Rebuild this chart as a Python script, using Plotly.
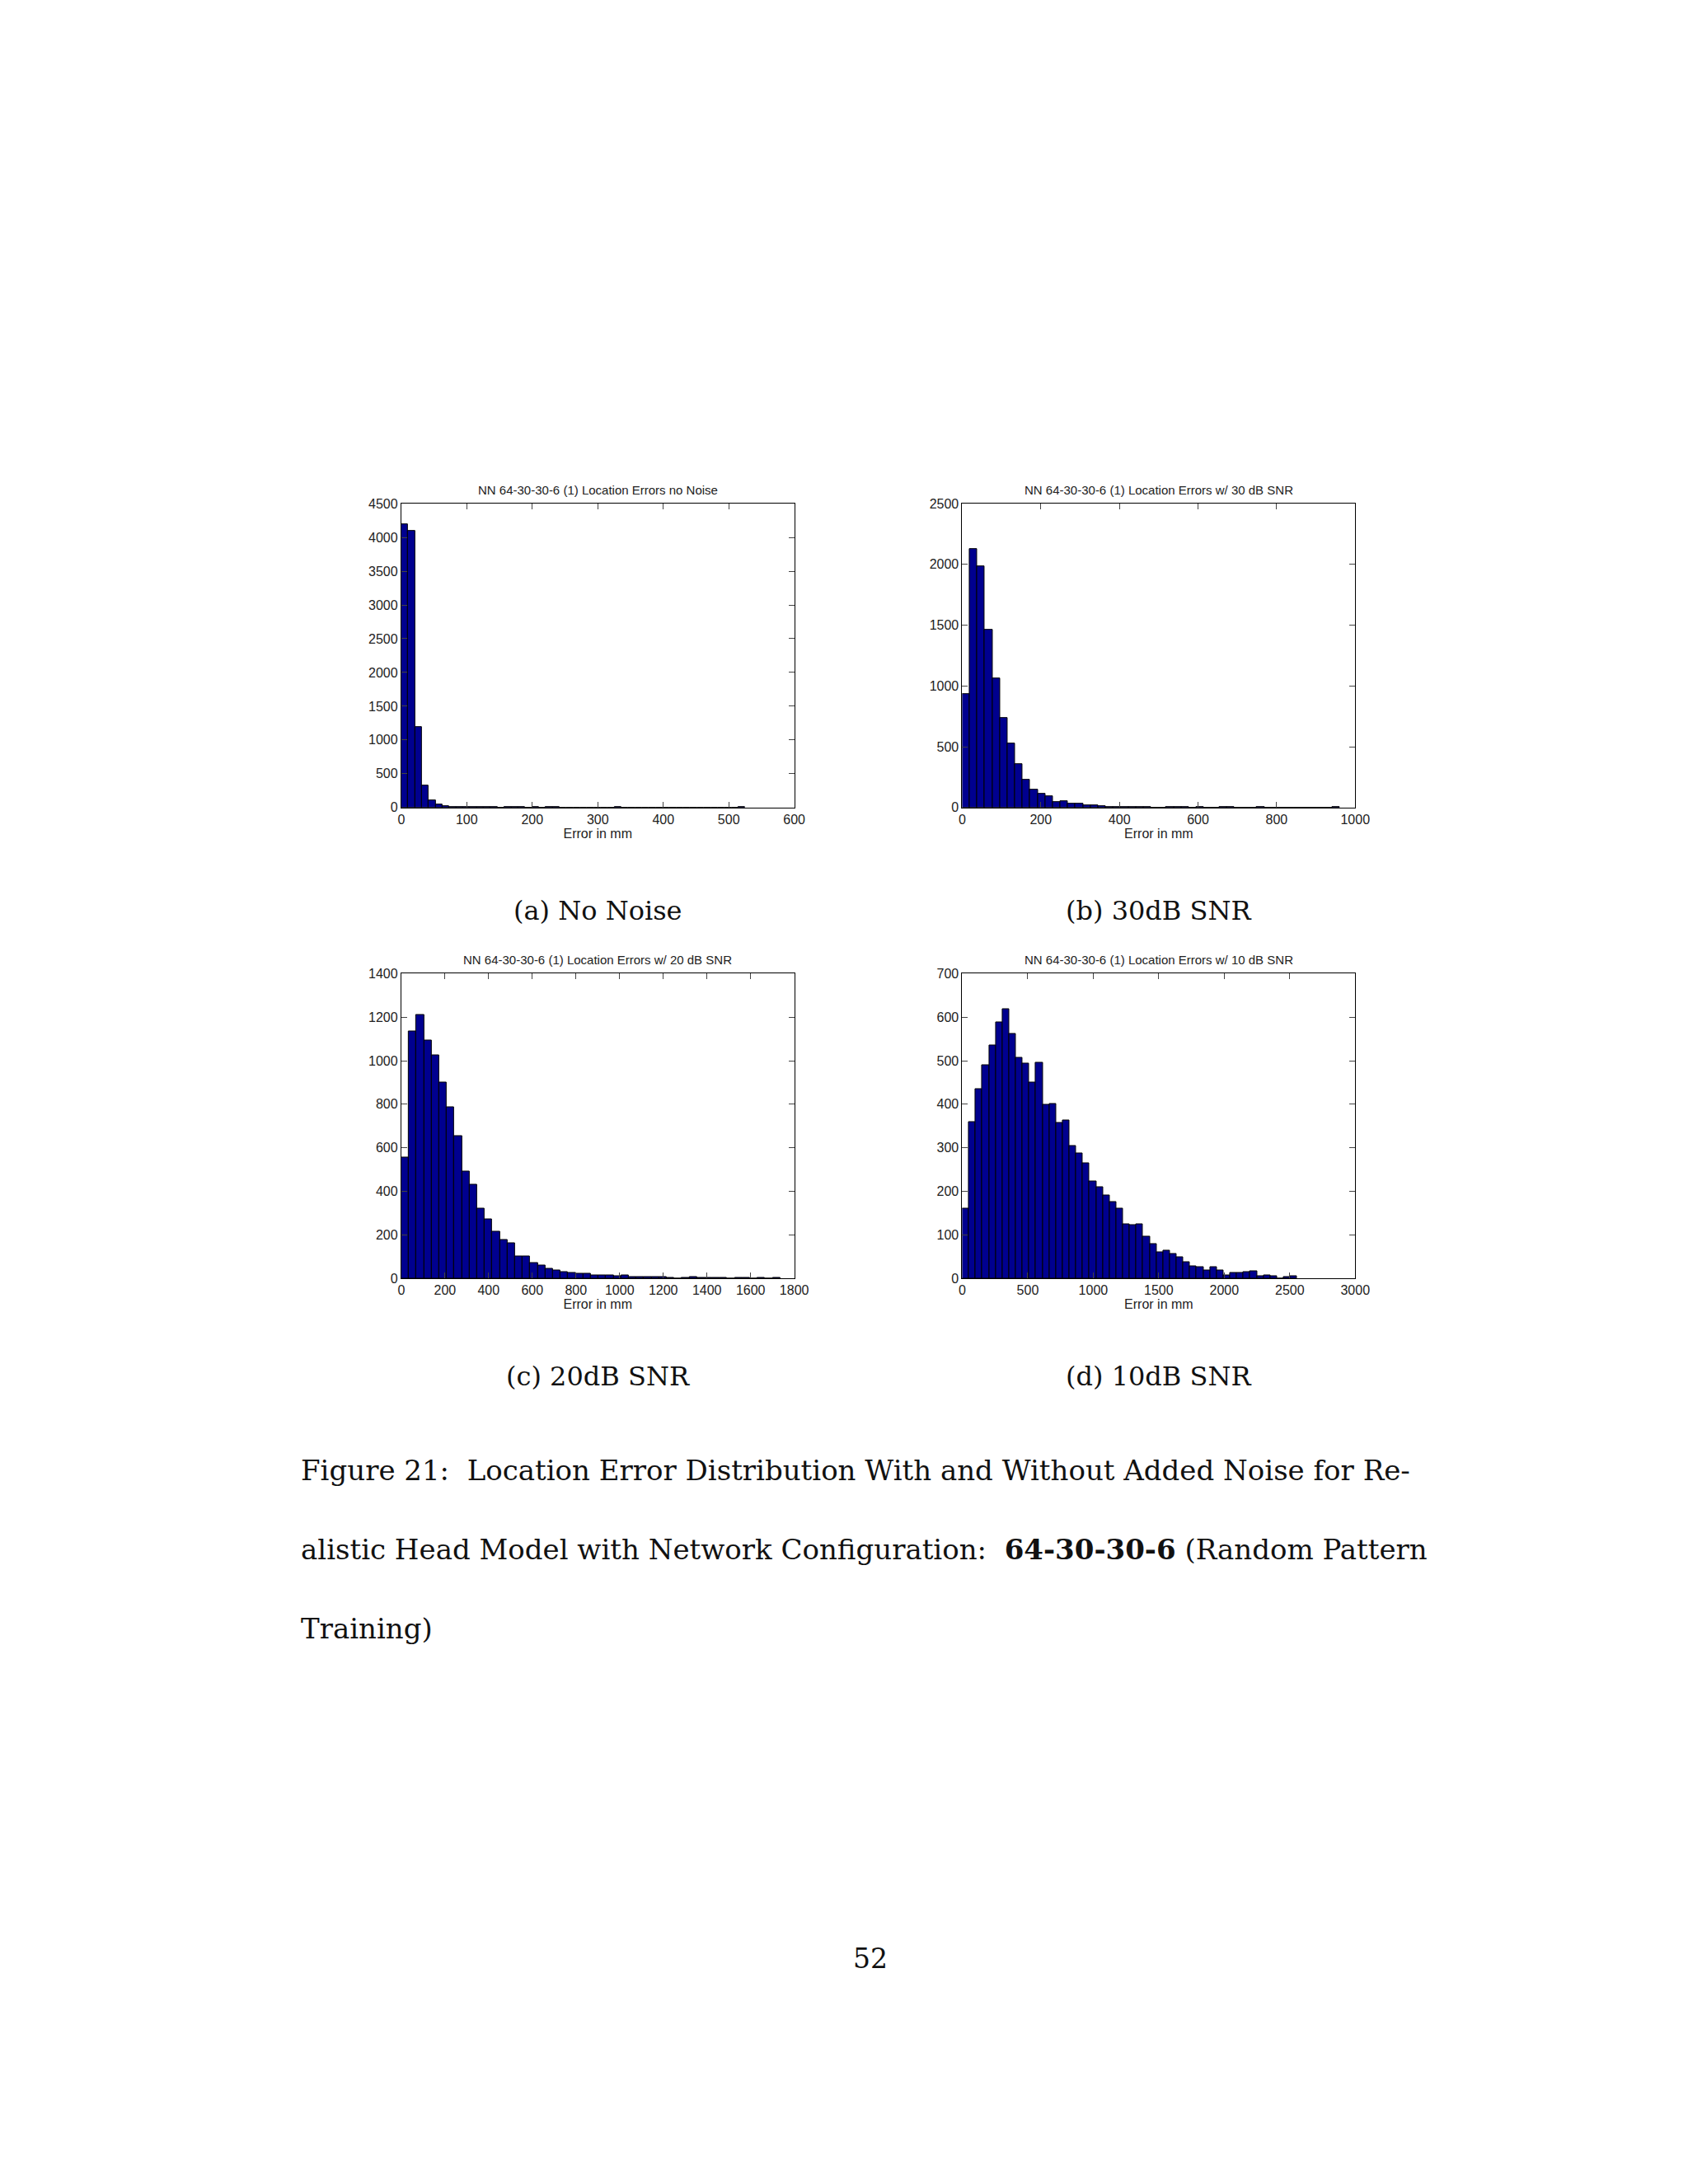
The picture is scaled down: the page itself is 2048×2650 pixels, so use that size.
import numpy as np
import plotly.graph_objects as go

# histogram counts (50 bins each)
counts_a = [4200, 4100, 1190, 330, 110, 40, 25, 8, 8, 5,
            5, 5, 5, 5, 0, 5, 5, 5, 0, 5,
            0, 5, 5, 0, 0, 0, 0, 0, 0, 0,
            0, 5, 0, 0, 0, 0, 0, 0, 0, 0,
            0, 0, 0, 0, 0, 0, 0, 0, 0, 5]
counts_b = [930, 2130, 1985, 1465, 1060, 740, 525, 355, 225, 145,
            110, 95, 45, 55, 30, 30, 20, 15, 8, 5,
            5, 5, 5, 5, 5, 0, 0, 5, 5, 5,
            0, 5, 0, 0, 5, 5, 0, 0, 0, 5,
            0, 0, 0, 0, 0, 0, 0, 0, 0, 5]
counts_c = [555, 1135, 1210, 1095, 1025, 900, 785, 655, 490, 430,
            320, 270, 215, 175, 160, 100, 100, 70, 60, 45,
            35, 28, 25, 20, 20, 15, 12, 15, 10, 12,
            8, 8, 5, 5, 8, 3, 0, 3, 8, 3,
            3, 3, 3, 0, 3, 3, 0, 3, 0, 3]
counts_d = [160, 360, 435, 490, 535, 588, 618, 562, 507, 493,
            450, 495, 398, 400, 357, 363, 305, 288, 265, 222,
            210, 190, 175, 160, 125, 122, 125, 95, 78, 60,
            63, 57, 48, 38, 28, 25, 18, 25, 18, 6,
            13, 13, 15, 17, 5, 7, 5, 0, 3, 5]
max_error = [525, 961, 1736, 2556]   # right edge of last bin, mm
x_max = [600, 1000, 1800, 3000]
y_max = [4500, 2500, 1400, 700]
x_dtick = [100, 200, 200, 500]
y_dtick = [500, 500, 200, 100]
titles = ["NN 64-30-30-6 (1) Location Errors no Noise",
          "NN 64-30-30-6 (1) Location Errors w/ 30 dB SNR",
          "NN 64-30-30-6 (1) Location Errors w/ 20 dB SNR",
          "NN 64-30-30-6 (1) Location Errors w/ 10 dB SNR"]
subcaptions = ["(a) No Noise", "(b) 30dB SNR", "(c) 20dB SNR", "(d) 10dB SNR"]
caption_lines = ["Figure 21:  Location Error Distribution With and Without Added Noise for Re-",
                 "alistic Head Model with Network Configuration:  <b>64-30-30-6</b> (Random Pattern",
                 "Training)"]

W, H = 2048, 2650
x_doms = [[480 / W, 962 / W], [1168 / W, 1650 / W]]
y_doms = [[1 - 970 / H, 1 - 599 / H], [1 - 1545 / H, 1 - 1173 / H]]
serif = "DejaVu Serif"

fig = go.Figure()
all_counts = [counts_a, counts_b, counts_c, counts_d]
for i, cnt in enumerate(all_counts):
    n = len(cnt)
    width = max_error[i] / n
    centers = (np.arange(n) + 0.5) * width
    k = "" if i == 0 else str(i + 1)
    fig.add_trace(go.Bar(x=centers, y=cnt, width=width, xaxis="x" + k, yaxis="y" + k,
                         marker=dict(color="#00008f", line=dict(color="black", width=1)),
                         showlegend=False))
    ax = dict(domain=x_doms[i % 2], range=[0, x_max[i]], dtick=x_dtick[i], tick0=0,
              ticks="inside", ticklen=7, mirror="ticks", showline=True, linecolor="black",
              linewidth=1, showgrid=False, zeroline=False, tickfont=dict(size=16, color="#222"),
              title=dict(text="Error in mm", font=dict(size=16, color="#222"), standoff=2),
              anchor="y" + k)
    ay = dict(domain=y_doms[i // 2], range=[0, y_max[i]], dtick=y_dtick[i], tick0=0,
              ticks="inside", ticklen=7, mirror="ticks", showline=True, linecolor="black",
              linewidth=1, showgrid=False, zeroline=False, tickfont=dict(size=16, color="#222"),
              anchor="x" + k)
    fig.layout["xaxis" + k] = ax
    fig.layout["yaxis" + k] = ay
    xc = sum(x_doms[i % 2]) / 2
    fig.add_annotation(text=titles[i], x=xc, y=y_doms[i // 2][1], xref="paper", yref="paper",
                       xanchor="center", yanchor="bottom", yshift=6, showarrow=False,
                       font=dict(size=15, color="#222", family="Liberation Sans"))
    sub_y = [1096, 1665][i // 2]
    fig.add_annotation(text=subcaptions[i], x=xc, y=1 - sub_y / H, xref="paper", yref="paper",
                       xanchor="center", showarrow=False,
                       font=dict(size=32, color="#111", family=serif))

for j, line in enumerate(caption_lines):
    fig.add_annotation(text=line, x=355 / W, y=1 - [1802, 1898, 1995][j] / H, xref="paper",
                       yref="paper", xanchor="left", showarrow=False,
                       font=dict(size=34, color="#111", family=serif))
fig.add_annotation(text="52", x=1055 / W, y=1 - 2397 / H, xref="paper", yref="paper",
                   xanchor="center", showarrow=False, font=dict(size=33, color="#111", family=serif))

fig.update_layout(width=W, height=H, margin=dict(l=0, r=0, t=0, b=0), bargap=0,
                  plot_bgcolor="white", paper_bgcolor="white",
                  font=dict(family="Liberation Sans"))
fig.write_html("out.html")
